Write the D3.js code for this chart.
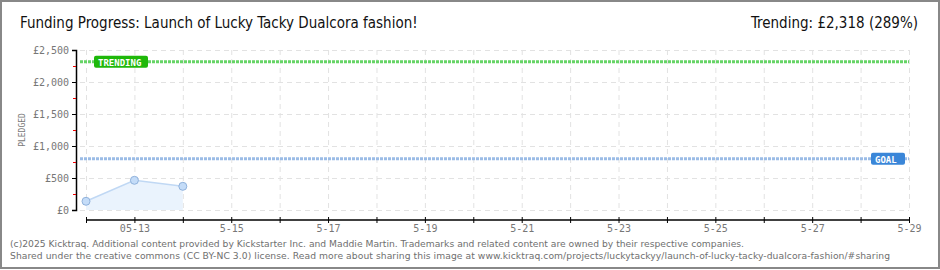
<!DOCTYPE html>
<html>
<head>
<meta charset="utf-8">
<script src="https://cdn.jsdelivr.net/npm/d3@7"></script>
<style>
  body { margin: 0; background: #fff; }
  svg { display: block; }
  .tick text { font-family: "DejaVu Sans Mono", monospace; }
</style>
</head>
<body>
<script>
// values
const days = ['5-12', '5-13', '5-14', '5-15', '5-16', '5-17', '5-18', '5-19', '5-20',
  '5-21', '5-22', '5-23', '5-24', '5-25', '5-26', '5-27', '5-28', '5-29'];
const pledgedDays = ['5-12', '5-13', '5-14'];
const pledged = [136, 464, 370];
const yTicks = [0, 500, 1000, 1500, 2000, 2500];
const minorTicks = [250, 750, 1250, 1750, 2250];
const goal = 800;
const trending = 2318;

const W = 940, H = 270;
const plotLeft = 76, plotRight = 909, plotTop = 50, plotBottom = 210;

const svg = d3.select('body').append('svg').attr('width', W).attr('height', H);

// outer frame
svg.append('rect')
  .attr('x', 1).attr('y', 1)
  .attr('width', W - 2).attr('height', H - 3)
  .attr('fill', '#fff').attr('stroke', '#888').attr('stroke-width', 2);

const x = d3.scalePoint().domain(days).range([86, plotRight]);
const y = d3.scaleLinear().domain([0, 2500]).range([plotBottom, plotTop]);

// title
svg.append('text')
  .attr('x', 20).attr('y', 28)
  .style('font-family', '"Liberation Sans Narrow", "DejaVu Sans Condensed", sans-serif')
  .style('font-size', '15px')
  .attr('fill', '#111')
  .text('Funding Progress: Launch of Lucky Tacky Dualcora fashion!');

svg.append('text')
  .attr('x', 918).attr('y', 28)
  .attr('text-anchor', 'end')
  .style('font-family', '"Liberation Sans Narrow", "DejaVu Sans Condensed", sans-serif')
  .style('font-size', '15px')
  .attr('fill', '#111')
  .text('Trending:  £2,318 (289%)');

// grid
const grid = svg.append('g').attr('stroke', '#e2e2e2').attr('stroke-dasharray', '5,4');
grid.selectAll('line.h')
  .data(yTicks)
  .join('line')
  .attr('class', 'h')
  .attr('x1', plotLeft + 4).attr('x2', plotRight)
  .attr('y1', (d) => y(d) + 0.5).attr('y2', (d) => y(d) + 0.5);
grid.selectAll('line.v')
  .data(days)
  .join('line')
  .attr('class', 'v')
  .attr('x1', (d) => x(d) + 0.5).attr('x2', (d) => x(d) + 0.5)
  .attr('y1', plotTop).attr('y2', plotBottom);

// area + line
const area = d3.area()
  .x((d, i) => x(pledgedDays[i]))
  .y0(y(0))
  .y1((d) => y(d));
svg.append('path')
  .datum(pledged)
  .attr('d', area)
  .attr('fill', '#eaf3fd');
svg.append('path')
  .datum(pledged)
  .attr('d', d3.line().x((d, i) => x(pledgedDays[i])).y((d) => y(d)))
  .attr('fill', 'none')
  .attr('stroke', '#c0d8f4')
  .attr('stroke-width', 1.5);

// goal & trending lines
svg.append('line')
  .attr('x1', plotLeft + 4).attr('x2', plotRight)
  .attr('y1', y(goal)).attr('y2', y(goal))
  .attr('stroke', '#9bbce6').attr('stroke-width', 3).attr('stroke-dasharray', '3,1');
svg.append('line')
  .attr('x1', plotLeft + 4).attr('x2', plotRight)
  .attr('y1', y(trending)).attr('y2', y(trending))
  .attr('stroke', '#66d466').attr('stroke-width', 3).attr('stroke-dasharray', '3,1');

// points
svg.selectAll('circle')
  .data(pledged)
  .join('circle')
  .attr('cx', (d, i) => x(pledgedDays[i]))
  .attr('cy', (d) => y(d))
  .attr('r', 4)
  .attr('fill', '#c4dcf8')
  .attr('stroke', '#90b2dc');

// labels on lines
function tag(label, tx, ty, w, fill) {
  svg.append('rect')
    .attr('x', tx).attr('y', ty - 6)
    .attr('width', w).attr('height', 12)
    .attr('rx', 2)
    .attr('fill', fill);
  svg.append('text')
    .attr('x', tx + 4).attr('y', ty + 4)
    .style('font-family', '"DejaVu Sans Mono", monospace')
    .style('font-size', '9px')
    .style('font-weight', 'bold')
    .attr('fill', '#fff')
    .text(label);
}
tag('TRENDING', 94, y(trending), 54, '#1fb80a');
tag('GOAL', 871, y(goal), 34, '#3a86d8');

// y axis
const yAxis = svg.append('g')
  .attr('transform', `translate(${plotLeft},0)`)
  .call(d3.axisLeft(y).tickValues(yTicks).tickSize(4).tickFormat((d) => '£' + d3.format(',')(d)));
yAxis.select('.domain').attr('stroke', '#000').attr('stroke-width', 1.5);
yAxis.selectAll('.tick text')
  .attr('fill', '#777')
  .style('font-size', '10px');

// minor red ticks
svg.append('g')
  .selectAll('line')
  .data(minorTicks)
  .join('line')
  .attr('x1', plotLeft - 3).attr('x2', plotLeft)
  .attr('y1', (d) => y(d) + 0.5).attr('y2', (d) => y(d) + 0.5)
  .attr('stroke', '#ee0000');

svg.append('text')
  .attr('transform', 'translate(25,130) rotate(-90)')
  .attr('text-anchor', 'middle')
  .style('font-family', '"DejaVu Sans Mono", monospace')
  .style('font-size', '8px')
  .attr('fill', '#777')
  .text('PLEDGED');

// x axis
const xAxis = svg.append('g')
  .attr('transform', 'translate(0,220)')
  .call(d3.axisBottom(x).tickSize(0).tickFormat((d, i) => (i % 2 ? (i === 1 ? '05-13' : d) : '')));
xAxis.select('.domain').attr('stroke', '#000').attr('stroke-width', 1.5).attr('d', `M${x(days[0])},0H${plotRight}`);
xAxis.selectAll('.tick line').attr('y1', -3).attr('y2', 3).attr('stroke', '#000');
xAxis.selectAll('.tick text').attr('fill', '#777').attr('dy', '0.9em').style('font-size', '10px');

// footer
const foot = svg.append('g')
  .style('font-family', '"DejaVu Sans", Verdana, sans-serif')
  .style('font-size', '9.2px')
  .attr('fill', '#6f6f6f');
foot.append('text').attr('x', 10).attr('y', 247)
  .attr('textLength', 734).attr('lengthAdjust', 'spacing')
  .text('(c)2025 Kicktraq. Additional content provided by Kickstarter Inc. and Maddie Martin. Trademarks and related content are owned by their respective companies.');
foot.append('text').attr('x', 10).attr('y', 259)
  .attr('textLength', 880).attr('lengthAdjust', 'spacing')
  .text('Shared under the creative commons (CC BY-NC 3.0) license. Read more about sharing this image at www.kicktraq.com/projects/luckytackyy/launch-of-lucky-tacky-dualcora-fashion/#sharing');
</script>
</body>
</html>
